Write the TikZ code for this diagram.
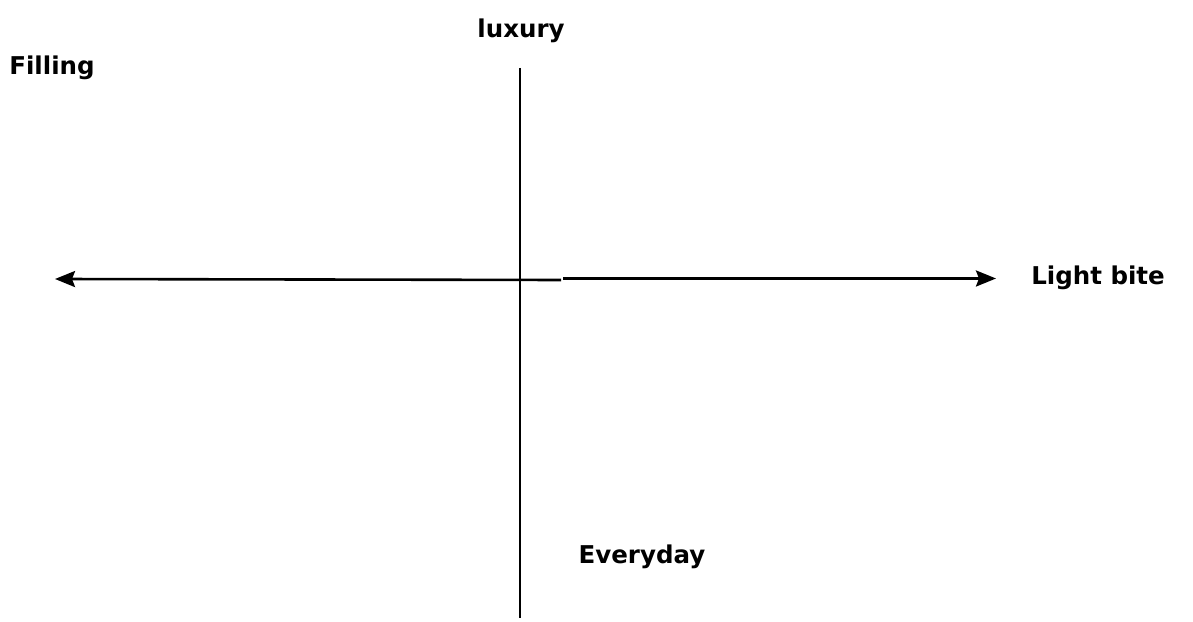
\documentclass[tikz,border=0pt]{standalone}
\usepackage{fontspec}
\setmainfont{DejaVu Sans}
\usetikzlibrary{arrows.meta}

\tikzset{
  axisline/.style={draw=black,line width=2.6pt},
  axislabel/.style={font=\fontsize{24.5}{28}\selectfont\bfseries,inner sep=0pt},
  tip/.style={-{Stealth[length=20pt,width=16pt,inset=3pt]}}
}

\begin{document}
\begin{tikzpicture}[x=1pt,y=1pt]
\useasboundingbox (0,0) rectangle (1193,621);
% axis ends:
\coordinate (top) at (520,553);
\coordinate (bottom) at (520,3);
\coordinate (midleft) at (561,341);
\coordinate (midright) at (563,342.5);
\coordinate (west) at (55,342);
\coordinate (east) at (996,342.5);
% axes:
\path[axisline] (top) -- (bottom);
\path[axisline,tip] (midleft) -- (west);
\path[axisline,tip] (midright) -- (east);
% labels:
\node[axislabel] (filling) at (52,553) {Filling};
\node[axislabel] (luxury) at (521,590) {luxury};
\node[axislabel] (lightbite) at (1098,343) {Light bite};
\node[axislabel] (everyday) at (642,64) {Everyday};
\end{tikzpicture}
\end{document}
